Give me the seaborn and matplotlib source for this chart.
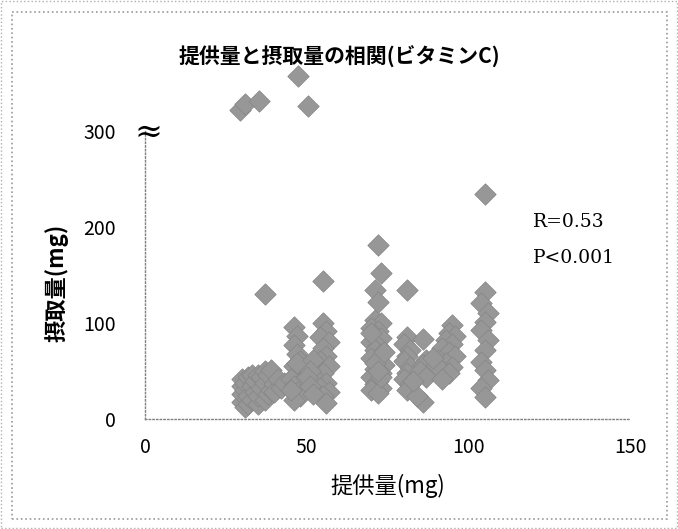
import matplotlib
matplotlib.use("Agg")
import matplotlib.pyplot as plt
import seaborn as sns
import pandas as pd
from matplotlib.patches import Rectangle

# ---- data ----
xa = [30, 30, 30, 30, 31, 31, 31, 32, 32, 32, 33, 33, 33, 34, 34, 35, 35, 35, 36, 36, 37, 37, 37, 38, 38, 39, 39, 40, 40, 41, 42, 43]
ya = [18, 26, 34, 42, 13, 30, 38, 16, 24, 44, 20, 34, 46, 28, 40, 16, 24, 46, 32, 44, 20, 38, 50, 26, 46, 30, 51, 36, 28, 42, 32, 38]
xb = [46, 47, 46, 47, 48, 46, 47, 45, 48, 46, 47, 48, 46, 47, 45]
yb = [96, 86, 77, 68, 60, 55, 48, 42, 38, 34, 28, 24, 20, 58, 30]
xc = [55, 56, 54, 57, 55, 56, 54, 57, 55, 53, 56, 54, 57, 55, 56, 52, 51, 50, 51, 52, 55, 37]
yc = [100, 92, 85, 80, 74, 66, 60, 55, 48, 42, 38, 32, 28, 24, 17, 62, 50, 44, 34, 26, 144, 130]
xd = [71, 73, 70, 72, 71, 73, 70, 72, 71, 73, 70, 72, 74, 71, 73, 70, 72, 71, 73, 70, 72, 71, 73, 70, 72, 74, 72, 73, 71, 72]
yd = [103, 100, 95, 92, 88, 84, 80, 76, 72, 68, 64, 60, 56, 52, 48, 44, 40, 36, 32, 30, 27, 58, 44, 90, 50, 70, 181, 152, 134, 122]
xe = [81, 80, 82, 81, 80, 82, 81, 80, 82, 81, 86, 87, 86, 85, 87, 86, 84, 83, 81]
ye = [85, 78, 72, 66, 60, 54, 48, 42, 36, 30, 83, 62, 56, 50, 44, 18, 24, 40, 134]
xf = [95, 94, 96, 93, 95, 92, 94, 96, 91, 93, 95, 92, 90, 94, 92, 89]
yf = [98, 90, 86, 82, 78, 74, 70, 66, 62, 58, 54, 50, 56, 48, 42, 64]
xg = [105, 104, 106, 105, 104, 106, 105, 104, 105, 106, 104, 105, 105]
yg = [132, 121, 110, 101, 93, 82, 72, 59, 51, 41, 32, 23, 234]
xtop = [29.4, 31, 35.3, 47.4, 50.5]
ytop = [322, 328, 331, 358, 326]

xticks = [0, 50, 100, 150]
yticks = [0, 100, 200, 300]
title = "提供量と摂取量の相関(ビタミンC)"
xlabel = "提供量(mg)"
ylabel = "摂取量(mg)"
stats_text = ["R=0.53", "P<0.001"]

df = pd.DataFrame({
    "x": xa + xb + xc + xd + xe + xf + xg + xtop,
    "y": ya + yb + yc + yd + ye + yf + yg + ytop,
})

plt.rcParams["font.family"] = ["Noto Sans CJK JP", "DejaVu Sans"]

W, H = 678, 529
fig = plt.figure(figsize=(W / 100, H / 100), dpi=100)
fig.patch.set_facecolor("white")

left, right, bottom, top = 145, 630, 419, 64
ax = fig.add_axes([left / W, (H - bottom) / H, (right - left) / W, (bottom - top) / H])
ax.set_facecolor("white")

sns.scatterplot(data=df, x="x", y="y", ax=ax, marker="D", s=118,
                color="#979797", edgecolor="#888888", linewidth=0.6, zorder=3)

ax.set_xlim(0, 150)
ax.set_ylim(0, 370)
ax.set_xticks(xticks)
ax.set_yticks(yticks)
ax.set_xticklabels([str(v) for v in xticks], fontsize=14)
ax.set_yticklabels([str(v) for v in yticks], fontsize=14)
ax.tick_params(axis="both", length=0)
ax.tick_params(axis="x", pad=13)
ax.tick_params(axis="y", pad=21)
ax.set_xlabel("")
ax.set_ylabel("")

for s in ["top", "right"]:
    ax.spines[s].set_visible(False)
for s in ["left", "bottom"]:
    ax.spines[s].set_linestyle(":")
    ax.spines[s].set_color("#808080")
    ax.spines[s].set_linewidth(1.0)
ax.spines["left"].set_bounds(0, 300)

# axis break mark
ax.text(1.0, 298, "≈", ha="center", va="center", fontsize=24,
        family=["DejaVu Serif"], fontweight="light", zorder=4)

fig.text(339 / W, 1 - 57 / H, title, ha="center", va="center",
         fontsize=15, fontweight="bold")
fig.text(388 / W, 1 - 486 / H, xlabel, ha="center", va="center", fontsize=16)
fig.text(57 / W, 1 - 283 / H, ylabel, ha="center", va="center", fontsize=16,
         fontweight="bold", rotation=90)

fig.text(533 / W, 1 - 222 / H, stats_text[0], ha="left", va="center",
         fontsize=13.5, family=["DejaVu Serif"])
fig.text(533 / W, 1 - 258 / H, stats_text[1], ha="left", va="center",
         fontsize=13.5, family=["DejaVu Serif"])

# chart frame
fig.patches.append(Rectangle((12 / W, 10 / H), (667 - 12) / W, (519 - 12) / H,
                             transform=fig.transFigure, fill=False,
                             edgecolor="#9a9a9a", linestyle=":", linewidth=1.2))
fig.patches.append(Rectangle((1 / W, 1 / H), (W - 2) / W, (H - 2) / H,
                             transform=fig.transFigure, fill=False,
                             edgecolor="#b0b0b0", linestyle=":", linewidth=1.0))

fig.savefig("out.png", dpi=100)
